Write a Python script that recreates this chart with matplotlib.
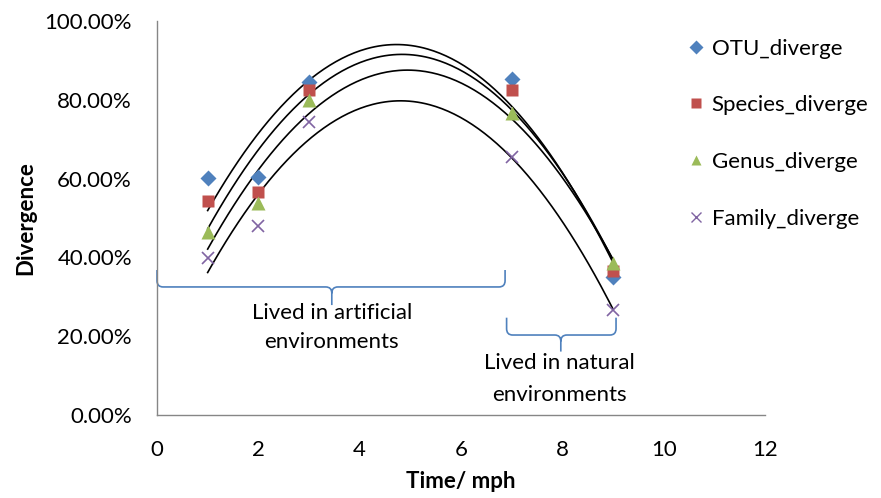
import numpy as np
import matplotlib
matplotlib.use("Agg")
import matplotlib.pyplot as plt
from matplotlib.path import Path
from matplotlib.patches import PathPatch
from matplotlib.ticker import PercentFormatter
from matplotlib.lines import Line2D

plt.rcParams['font.family'] = ['Lato', 'DejaVu Sans']

# data (divergence in %)
time = [1, 2, 3, 7, 9]
otu = [60.2, 60.4, 84.5, 85.3, 35.0]
species = [54.4, 56.7, 82.5, 82.5, 36.6]
genus = [46.5, 53.8, 80.0, 76.6, 38.6]
family = [39.8, 48.0, 74.4, 65.5, 26.6]

series_names = ["OTU_diverge", "Species_diverge", "Genus_diverge", "Family_diverge"]
series_vals = [otu, species, genus, family]
colors = ["#4F81BD", "#C0504D", "#9BBB59", "#8064A2"]
markers = ["D", "s", "^", "x"]
msizes = [8, 9, 10, 9]

blue = "#4F81BD"
gray = "#868686"
fs = 16

fig = plt.figure(figsize=(8.81, 4.98), dpi=100)
ax = fig.add_axes([157 / 881, 1 - 415 / 498, 608 / 881, 394 / 498])

xs = np.linspace(min(time), max(time), 200)
for name, vals, c, m, ms in zip(series_names, series_vals, colors, markers, msizes):
    # order-2 polynomial trendline, as in Excel
    coef = np.polyfit(time, vals, 2)
    ax.plot(xs, np.polyval(coef, xs), color="black", lw=1.2, zorder=2)
    if m == "x":
        ax.plot(time, vals, ls="none", marker=m, color=c, ms=ms, mew=1.2, zorder=3)
    else:
        ax.plot(time, vals, ls="none", marker=m, color=c, ms=ms, mec="none", zorder=3)

ax.set_xlim(0, 12)
ax.set_ylim(0, 100)
ax.set_xticks(range(0, 13, 2))
ax.set_yticks(range(0, 101, 20))
ax.yaxis.set_major_formatter(PercentFormatter(decimals=2))
ax.tick_params(length=0, labelsize=fs)
ax.tick_params(axis="y", pad=18)
ax.tick_params(axis="x", pad=18)
for s in ["top", "right"]:
    ax.spines[s].set_visible(False)
for s in ["left", "bottom"]:
    ax.spines[s].set_color(gray)
    ax.spines[s].set_linewidth(1)

ax.set_xlabel("Time/ mph", fontsize=fs, fontweight="bold", labelpad=8)
ax.set_ylabel("Divergence", fontsize=fs, fontweight="bold", labelpad=6)


def brace(x0, x1, xm, ytop, ybase, ytip, dx=0.12, dy=1.6):
    verts = [(x0, ytop), (x0, ybase + dy), (x0, ybase), (x0 + dx, ybase),
             (xm - dx, ybase), (xm, ybase), (xm, ybase - dy), (xm, ytip),
             (xm, ybase - dy), (xm, ybase), (xm + dx, ybase),
             (x1 - dx, ybase), (x1, ybase), (x1, ybase + dy), (x1, ytop)]
    codes = [Path.MOVETO, Path.LINETO, Path.CURVE3, Path.CURVE3,
             Path.LINETO, Path.CURVE3, Path.CURVE3, Path.LINETO,
             Path.MOVETO, Path.CURVE3, Path.CURVE3,
             Path.LINETO, Path.CURVE3, Path.CURVE3, Path.LINETO]
    p = PathPatch(Path(verts, codes), fill=False, ec=blue, lw=1.2,
                  clip_on=False, zorder=1)
    ax.add_patch(p)


brace(0.0, 6.87, 3.45, 36.8, 32.5, 27.9)
brace(6.9, 9.06, 7.97, 24.7, 20.3, 16.1)

ax.text(3.45, 22.2, "Lived in artificial\nenvironments", ha="center", va="center",
        fontsize=fs, linespacing=1.6)
ax.text(7.95, 9.2, "Lived in natural\nenvironments", ha="center", va="center",
        fontsize=fs, linespacing=1.75, clip_on=False)

handles = []
for name, c, m in zip(series_names, colors, markers):
    if m == "x":
        h = Line2D([], [], ls="none", marker=m, color=c, ms=7, mew=1.0, label=name)
    else:
        h = Line2D([], [], ls="none", marker=m, color=c, ms=7, mec="none", label=name)
    handles.append(h)
ax.legend(handles=handles, loc="upper left", bbox_to_anchor=(0.85, 0.978),
          frameon=False, fontsize=fs, labelspacing=1.65, handletextpad=0.1,
          handlelength=1.2, borderaxespad=0)

fig.savefig("out.png", dpi=100)
